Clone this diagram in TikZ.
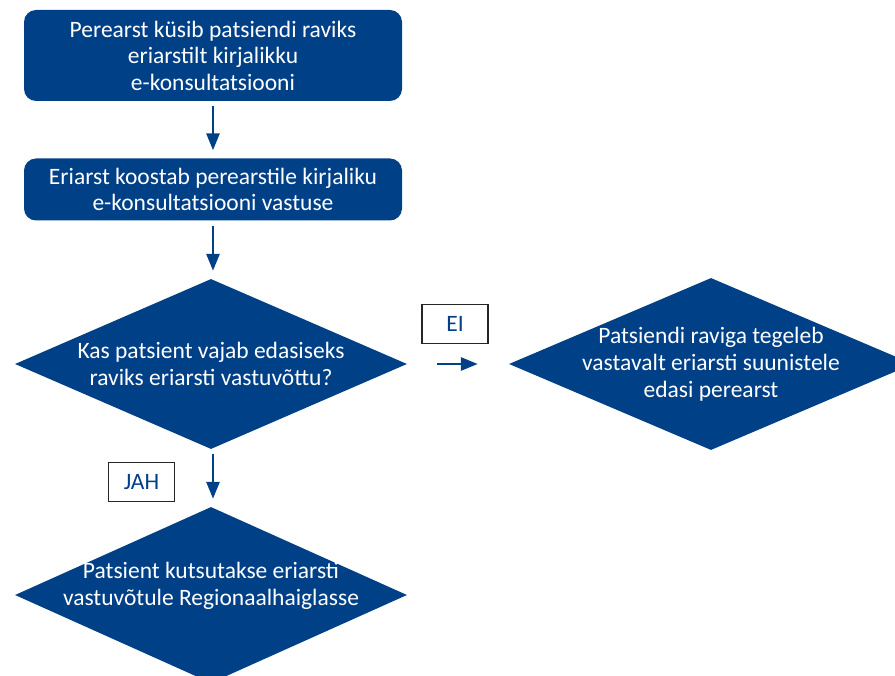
\documentclass[tikz,border=0pt]{standalone}
\usepackage{fontspec}
\setmainfont{Carlito}
\usetikzlibrary{shapes.geometric,arrows.meta}
\definecolor{nblue}{RGB}{0,64,135}
\tikzset{
  box/.style={fill=nblue, rounded corners=12pt, text=white, align=center,
    font=\fontsize{23.5}{26.5}\selectfont, minimum width=378pt, inner sep=0pt},
  choice/.style={diamond, fill=nblue, inner sep=0pt},
  dtext/.style={text=white, align=center, font=\fontsize{23.5}{27}\selectfont},
  tag/.style={draw=black!85, line width=1.6pt, text=nblue, inner sep=0pt,
    minimum width=66pt, minimum height=39pt, font=\fontsize{23.5}{25}\selectfont},
  flow/.style={draw=nblue, line width=2.8pt, -{Triangle[width=13pt,length=17pt]},
    shorten <=5pt, shorten >=8pt}
}
\begin{document}
\begin{tikzpicture}[x=1pt, y=-1pt]
  \useasboundingbox (0,0) rectangle (895,676);
  \node[box, minimum height=91pt] (ask) at (213,55.5)
    {Perearst küsib patsiendi raviks\\eriarstilt kirjalikku\\e-konsultatsiooni};
  \node[box, minimum height=62pt] (reply) at (213,189.5)
    {Eriarst koostab perearstile kirjaliku\\e-konsultatsiooni vastuse};
  \node[choice, minimum width=392pt, minimum height=170pt,
    label={[dtext]center:{Kas patsient vajab edasiseks\\raviks eriarsti vastuvõttu?}}]
    (need) at (211,364) {};
  \node[choice, minimum width=404pt, minimum height=172pt,
    label={[dtext]center:{Patsiendi raviga tegeleb\\vastavalt eriarsti suunistele\\edasi perearst}}]
    (gp) at (711,364) {};
  \node[choice, minimum width=392pt, minimum height=176pt,
    label={[dtext, yshift=9pt]center:{Patsient kutsutakse eriarsti\\vastuvõtule Regionaalhaiglasse}}]
    (visit) at (211,595) {};
  \node[tag] (no) at (455,324) {EI};
  \node[tag] (yes) at (141.5,482) {JAH};
  \draw[flow] (ask.south) -- (ask.south |- reply.north);
  \draw[flow] (reply.south) -- (reply.south |- need.north);
  \draw[flow] (need.south -| ask.south) -- (ask.south |- visit.north);
  \draw[flow, shorten <=30pt, shorten >=31pt] (need) -- (gp);
\end{tikzpicture}
\end{document}
